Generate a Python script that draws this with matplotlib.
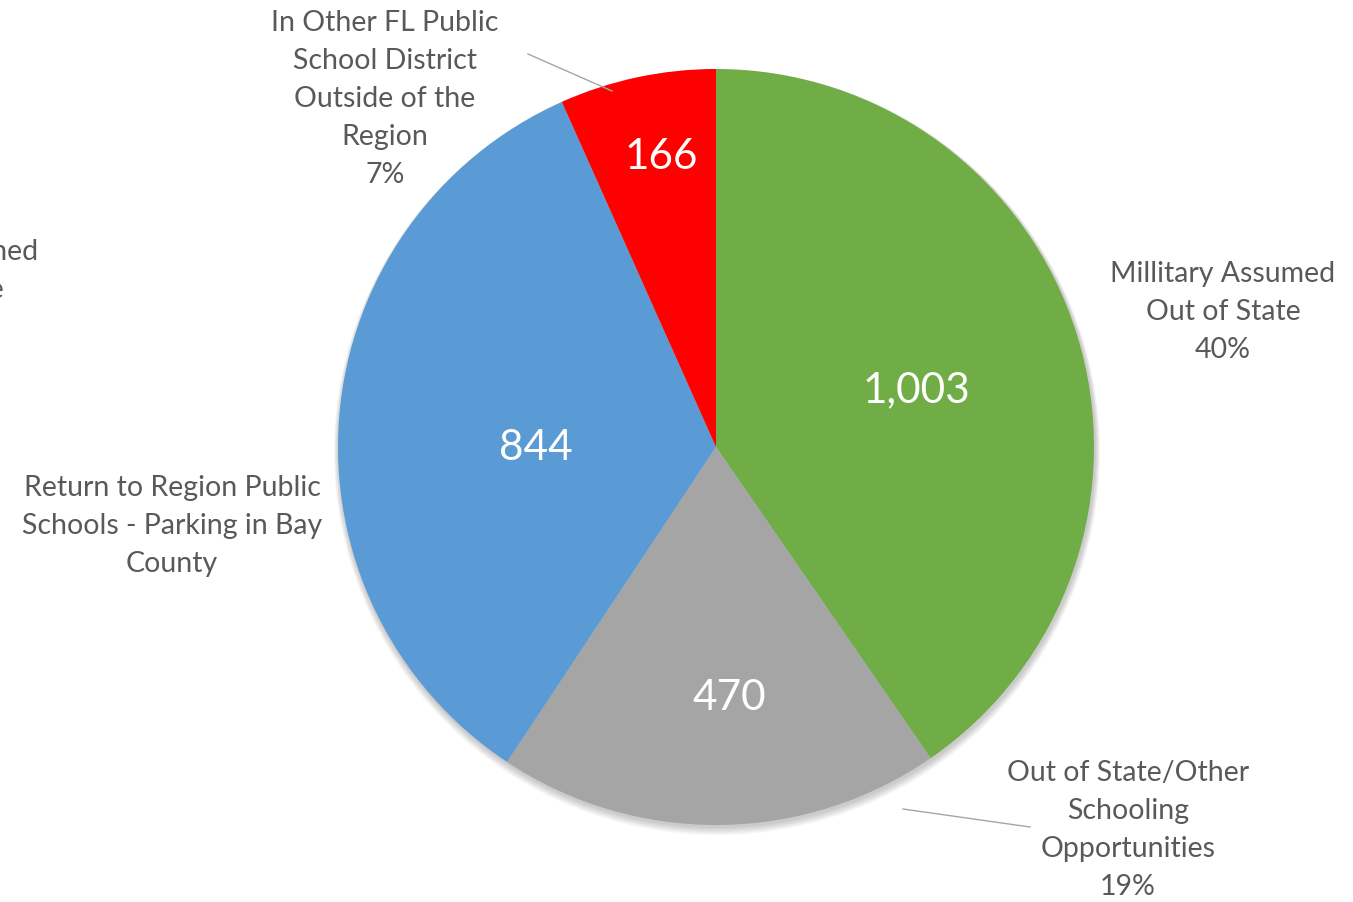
import matplotlib.pyplot as plt
from matplotlib.patches import Circle

# slice data, clockwise from 12 o'clock
values = [1003, 470, 844, 166]
value_text = ['1,003', '470', '844', '166']
colors = ['#70AD47', '#A5A5A5', '#5B9BD5', '#FF0000']
cat_labels = ['Millitary Assumed\nOut of State\n40%',
              'Out of State/Other\nSchooling\nOpportunities\n19%',
              'Return to Region Public\nSchools - Parking in Bay\nCounty',
              'In Other FL Public\nSchool District\nOutside of the\nRegion\n7%']

W, H = 1353, 903
plt.rcParams['font.family'] = ['Lato', 'DejaVu Sans']

fig = plt.figure(figsize=(W / 100, H / 100), dpi=100)
ax = fig.add_axes([0, 0, 1, 1])

def Y(py):
    # pixel row -> data y
    return H - py

cx, cy, r = 716, Y(448), 378

# soft shadow under the pie
for k in range(6):
    ax.add_patch(Circle((cx + 1, cy - 2 - k * 0.6), r + 1 + k * 0.8,
                        color='black', alpha=0.035, lw=0, zorder=0))

ax.pie(values, colors=colors, startangle=90, counterclock=False,
       center=(cx, cy), radius=r, wedgeprops=dict(linewidth=0))

# value labels inside the slices
val_pos = [(916, 390), (729, 698), (536, 448), (661, 157)]
for t, (px, py) in zip(value_text, val_pos):
    ax.text(px, Y(py), t, color='white', fontsize=30.5, ha='center', va='center')

# category labels outside
lab_pos = [(1223, 312), (1128, 830), (172, 526), (385, 99)]
for t, (px, py) in zip(cat_labels, lab_pos):
    ax.text(px, Y(py), t, color='#595959', fontsize=20.5, ha='center', va='center',
            linespacing=1.58)

# label from a neighbouring chart, cut off at the left edge
ax.text(-74, Y(290), 'Millitary Assumed\nOut of State\n40%', color='#595959',
        fontsize=20.5, ha='center', va='center', linespacing=1.58)

# leader lines
ax.plot([528, 612], [Y(55), Y(92)], color='#A6A6A6', lw=1)
ax.plot([903, 1030], [Y(810), Y(828)], color='#A6A6A6', lw=1)

ax.set_xlim(0, W)
ax.set_ylim(0, H)
ax.set_aspect('equal')
ax.axis('off')

fig.savefig('out.png', dpi=100, facecolor='white')
